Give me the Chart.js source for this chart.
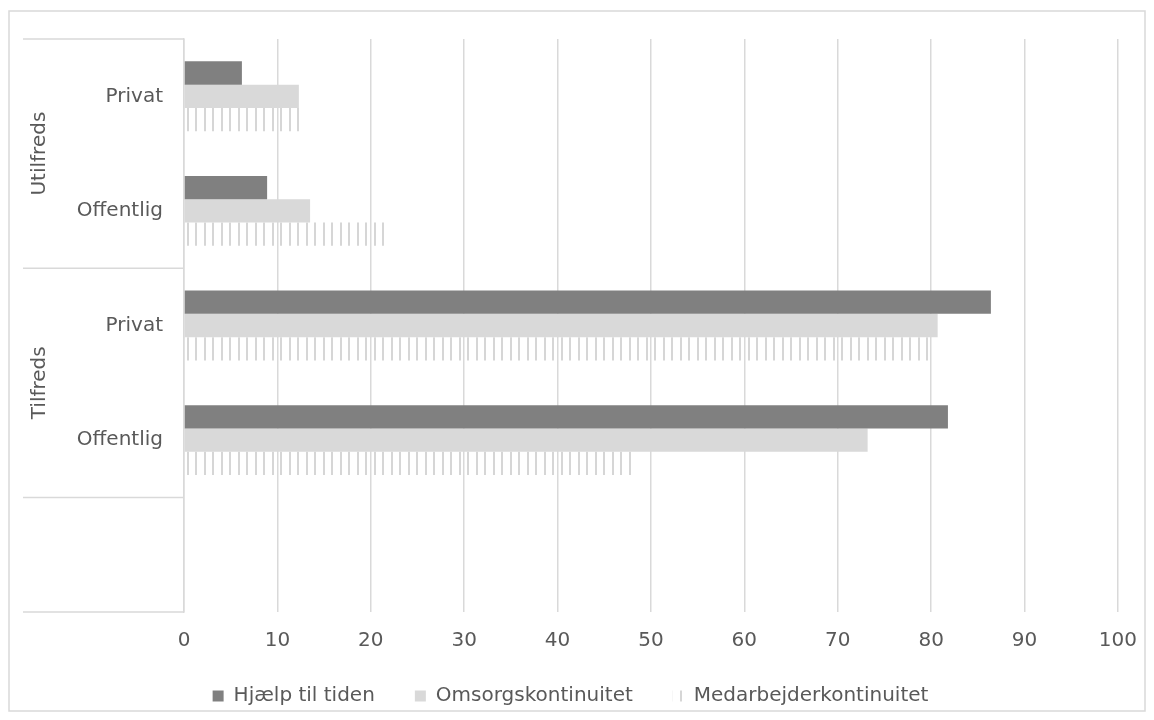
<!DOCTYPE html>
<html>
<head>
<meta charset="utf-8">
<script src="https://cdn.jsdelivr.net/npm/chart.js@4"></script>
<style>
  html, body { margin: 0; padding: 0; background: #fff; }
  #wrap { width: 1154px; height: 720px; }
</style>
</head>
<body>
<div id="wrap"><canvas id="satisfactionChart" width="1154" height="720"></canvas></div>
<script>
const categories = ['Privat', 'Offentlig', 'Privat', 'Offentlig', ''];
const groups = [
  { label: 'Utilfreds', from: 0, to: 1 },
  { label: 'Tilfreds', from: 2, to: 3 }
];
const xTicks = [0, 10, 20, 30, 40, 50, 60, 70, 80, 90, 100];

const hjaelpTilTiden = [6.2, 8.9, 86.4, 81.8, null];
const omsorgskontinuitet = [12.3, 13.5, 80.7, 73.2, null];
const medarbejderkontinuitet = [12.7, 21.9, 80.2, 48.0, null];

const FONT = 'Verdana, "DejaVu Sans", sans-serif';
const TEXT_COLOR = '#595959';
const LINE_COLOR = '#d9d9d9';

// vertical stripe fill used by Medarbejderkontinuitet
function stripePattern() {
  const tile = document.createElement('canvas');
  tile.width = 17;
  tile.height = 8;
  const t = tile.getContext('2d');
  t.fillStyle = '#d6d6d6';
  t.fillRect(0, 0, 2, 8);
  t.fillRect(8, 0, 2, 8);
  return document.getElementById('satisfactionChart').getContext('2d').createPattern(tile, 'repeat');
}

// outer frame, group labels and the separators of the category area
const groupAxisPlugin = {
  id: 'groupAxis',
  beforeDraw(chart) {
    const ctx = chart.ctx;
    ctx.save();
    ctx.strokeStyle = LINE_COLOR;
    ctx.lineWidth = 1.5;
    ctx.strokeRect(9, 11, chart.width - 18, chart.height - 20);
    ctx.restore();
  },
  afterDraw(chart) {
    const ctx = chart.ctx;
    const y = chart.scales.y;
    const area = chart.chartArea;
    const half = (y.getPixelForValue(1) - y.getPixelForValue(0)) / 2;
    const left = 23;

    ctx.save();
    ctx.strokeStyle = LINE_COLOR;
    ctx.lineWidth = 1.5;
    const bounds = [area.top];
    groups.forEach(g => bounds.push(y.getPixelForValue(g.to) + half));
    bounds.push(area.bottom);
    bounds.forEach(py => {
      ctx.beginPath();
      ctx.moveTo(left, py);
      ctx.lineTo(area.left, py);
      ctx.stroke();
    });

    ctx.fillStyle = TEXT_COLOR;
    ctx.font = '20px ' + FONT;
    ctx.textAlign = 'center';
    ctx.textBaseline = 'middle';
    groups.forEach(g => {
      const top = y.getPixelForValue(g.from) - half;
      const bottom = y.getPixelForValue(g.to) + half;
      ctx.save();
      ctx.translate(40, (top + bottom) / 2);
      ctx.rotate(-Math.PI / 2);
      ctx.fillText(g.label, 0, 0);
      ctx.restore();
    });
    ctx.restore();
  }
};

new Chart(document.getElementById('satisfactionChart'), {
  type: 'bar',
  data: {
    labels: categories,
    datasets: [
      {
        label: 'Hjælp til tiden',
        data: hjaelpTilTiden,
        backgroundColor: '#808080'
      },
      {
        label: 'Omsorgskontinuitet',
        data: omsorgskontinuitet,
        backgroundColor: '#d9d9d9'
      },
      {
        label: 'Medarbejderkontinuitet',
        data: medarbejderkontinuitet,
        backgroundColor: stripePattern()
      }
    ]
  },
  options: {
    indexAxis: 'y',
    responsive: false,
    animation: false,
    datasets: {
      bar: {
        categoryPercentage: 0.61,
        barPercentage: 1
      }
    },
    layout: {
      padding: { left: 23, top: 39, right: 36, bottom: 4 }
    },
    plugins: {
      tooltip: { enabled: false },
      legend: {
        position: 'bottom',
        labels: {
          boxWidth: 11,
          boxHeight: 11,
          padding: 40,
          color: TEXT_COLOR,
          font: { family: FONT, size: 20 }
        }
      }
    },
    scales: {
      x: {
        min: 0,
        max: 100,
        afterBuildTicks(scale) {
          scale.ticks = xTicks.map(v => ({ value: v }));
        },
        afterFit(scale) {
          scale.height = 34;
        },
        grid: {
          color: LINE_COLOR,
          lineWidth: 1.5,
          drawTicks: false
        },
        border: { display: false },
        ticks: {
          padding: 17,
          color: TEXT_COLOR,
          font: { family: FONT, size: 20 }
        }
      },
      y: {
        afterFit(scale) {
          scale.width = 161;
        },
        grid: { display: false, drawTicks: false },
        border: { display: true, color: LINE_COLOR, width: 1.5 },
        ticks: {
          padding: 21,
          color: TEXT_COLOR,
          font: { family: FONT, size: 20 }
        }
      }
    }
  },
  plugins: [groupAxisPlugin]
});
</script>
</body>
</html>
